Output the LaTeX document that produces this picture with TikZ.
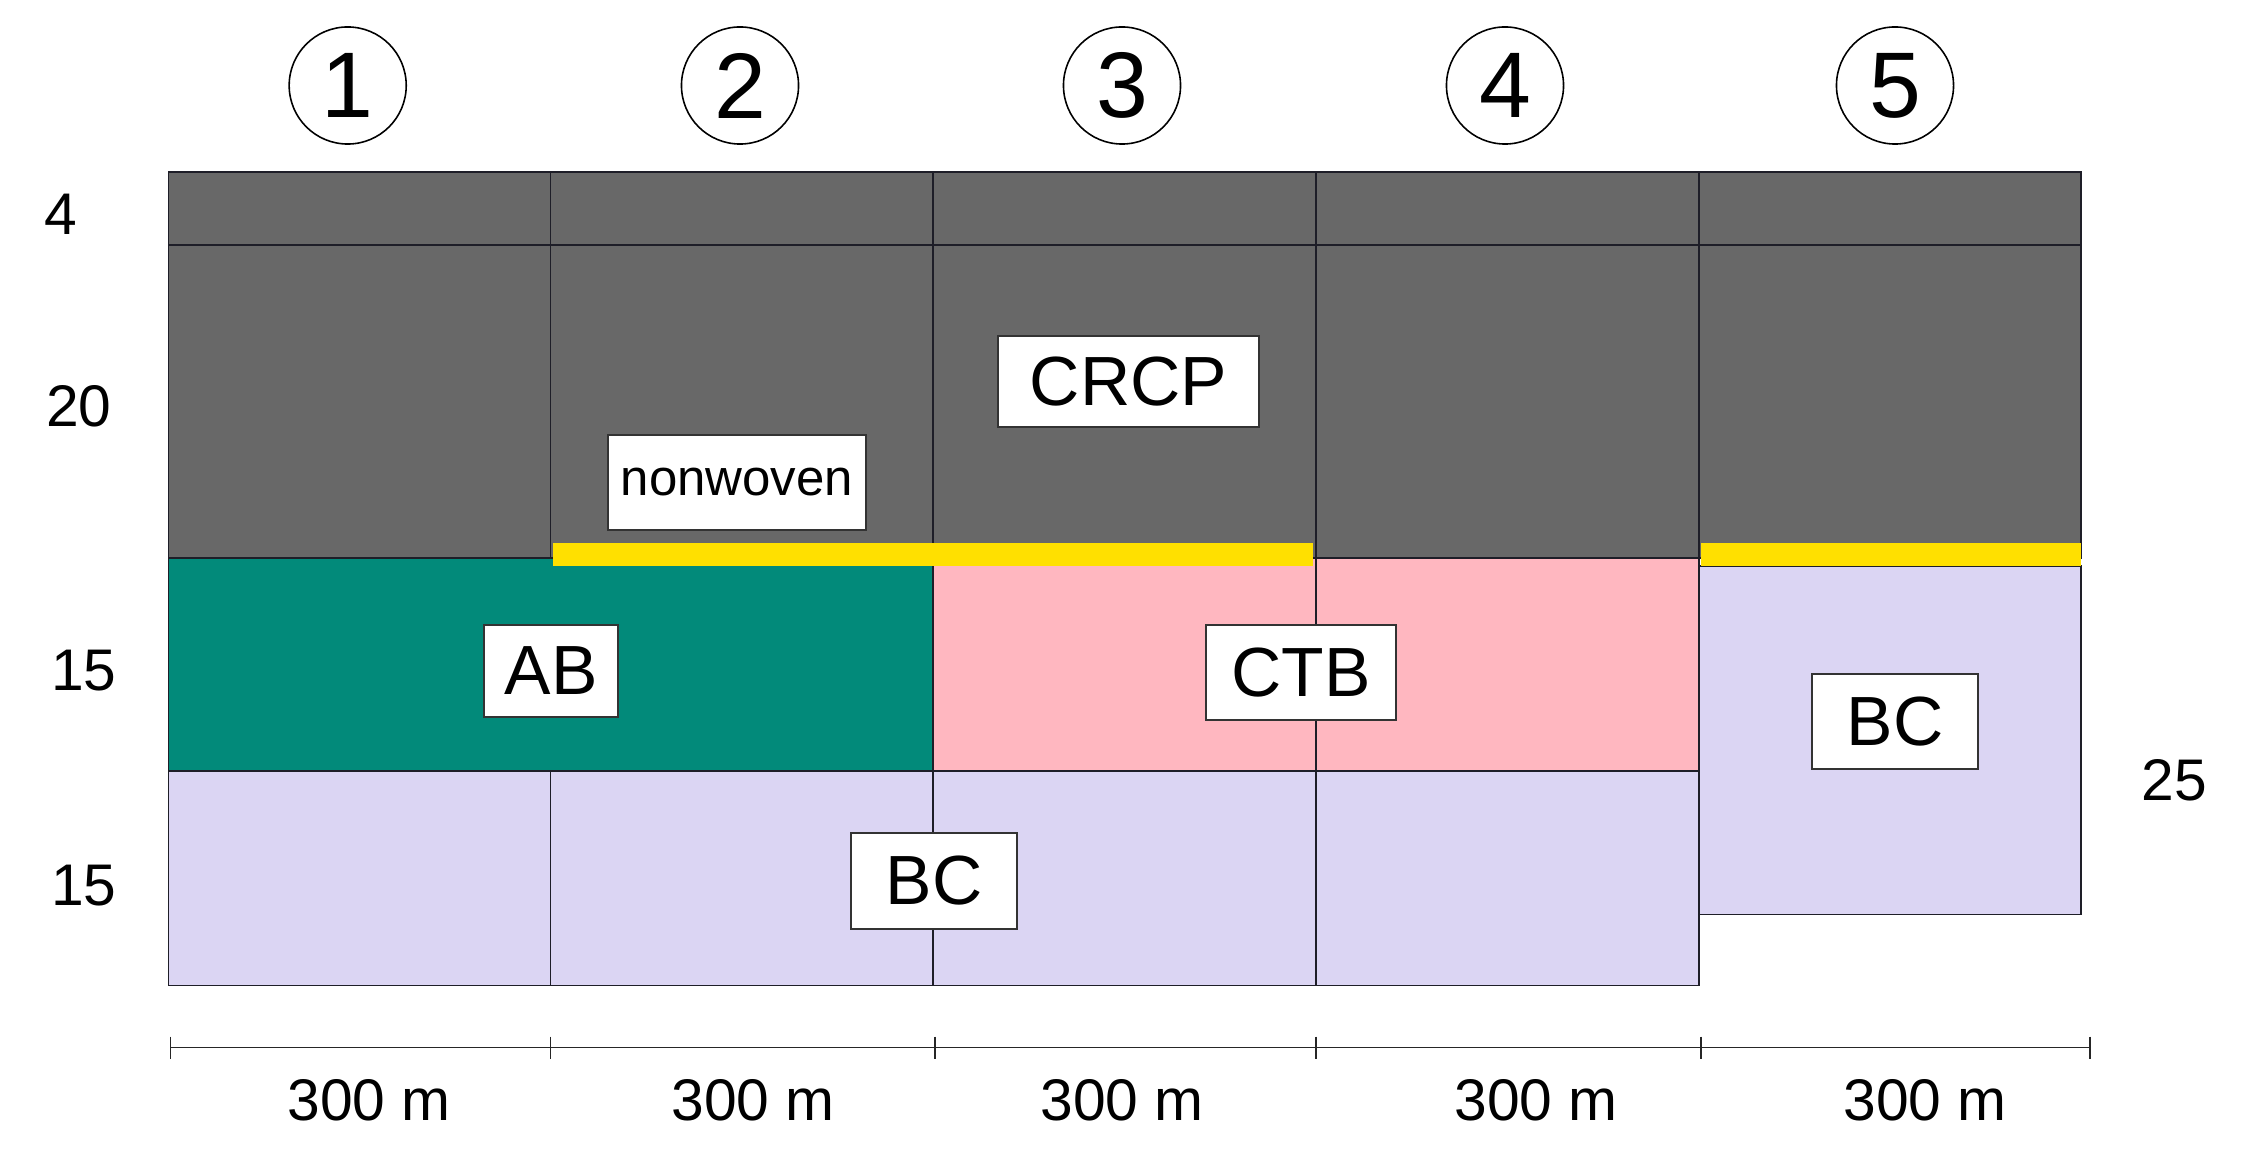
\documentclass[tikz,border=0pt]{standalone}
\usepackage{fontspec}
\setmainfont{Liberation Sans}
\definecolor{concgray}{RGB}{104,104,104}
\definecolor{abgreen}{RGB}{2,138,122}
\definecolor{ctbpink}{RGB}{255,183,192}
\definecolor{bclav}{RGB}{219,213,243}
\definecolor{geoyellow}{RGB}{255,224,0}
\definecolor{linedark}{RGB}{30,30,40}
\begin{document}
\begin{tikzpicture}[x=0.01cm,y=-0.01cm,
  cell/.style={draw=linedark, line width=0.55pt},
  lbl/.style={draw=black!80, fill=white, line width=0.55pt, inner sep=0pt,
    font=\fontsize{19.8}{22}\selectfont},
  numc/.style={circle, draw=black, line width=0.45pt, minimum size=1.17cm, inner sep=0pt,
    font=\fontsize{26.5}{30}\selectfont},
  dimtxt/.style={inner sep=0pt, font=\fontsize{16.7}{20}\selectfont},
  bar/.style={draw=black!85, line width=0.5pt}]
\useasboundingbox (0,0) rectangle (2248,1161);

% concrete layers (4 cm and 20 cm)
\foreach \a/\b in {168.5/550.5, 550.5/932.6, 932.6/1316, 1316/1699, 1699/2081} {
  \filldraw[cell, fill=concgray] (\a,172) rectangle (\b,245);
  \filldraw[cell, fill=concgray] (\a,245) rectangle (\b,558);
}
% base layers
\filldraw[cell, fill=abgreen] (168.5,558) rectangle (932.6,771);
\filldraw[cell, fill=ctbpink] (932.6,558) rectangle (1316,771);
\filldraw[cell, fill=ctbpink] (1316,558) rectangle (1699,771);
\foreach \a/\b in {168.5/550.5, 550.5/932.6, 932.6/1316, 1316/1699} {
  \filldraw[cell, fill=bclav] (\a,771) rectangle (\b,985.5);
}
\filldraw[cell, fill=bclav] (1699,566) rectangle (2081,914.5);
% nonwoven geotextile
\fill[geoyellow] (553,543) rectangle (1313,566);
\fill[geoyellow] (1701,543) rectangle (2081,566);

% labels
\node[lbl, minimum width=2.58cm, minimum height=0.95cm, font=\fontsize{14.5}{17}\selectfont] (nw) at (737,482.5) {nonwoven};
\node[lbl, minimum width=2.61cm, minimum height=0.91cm] (crcp) at (1128.5,381.5) {CRCP};
\node[lbl, minimum width=1.34cm, minimum height=0.92cm] (ab) at (551,671) {AB};
\node[lbl, minimum width=1.90cm, minimum height=0.95cm] (ctb) at (1301,672.5) {CTB};
\node[lbl, minimum width=1.66cm, minimum height=0.96cm] (bca) at (934,881) {BC};
\node[lbl, minimum width=1.66cm, minimum height=0.95cm] (bcb) at (1895,721.5) {BC};

% section numbers
\node[numc] (c1) at (347.7,85.5) {1};
\node[numc] (c2) at (740,85.5) {2};
\node[numc] (c3) at (1122,85.5) {3};
\node[numc] (c4) at (1505,85.5) {4};
\node[numc] (c5) at (1895,85.5) {5};

% thickness labels
\node[dimtxt] (t4) at (61,214) {4};
\node[dimtxt] (t20) at (79,406) {20};
\node[dimtxt] (t15a) at (84,671) {15};
\node[dimtxt] (t15b) at (84,886) {15};
\node[dimtxt] (t25) at (2174,780) {25};

% scale bar
\coordinate (s0) at (170.6,1047.5);
\coordinate (s1) at (550.5,1047.5);
\coordinate (s2) at (935,1047.5);
\coordinate (s3) at (1316,1047.5);
\coordinate (s4) at (1701,1047.5);
\coordinate (s5) at (2089.6,1047.5);
\draw[bar] (s0) -- (s5);
\foreach \i in {0,...,5} {
  \draw[bar] (s\i) ++(0,-11) -- ++(0,22);
}
\node[dimtxt] (m1) at (369,1100) {300 m};
\node[dimtxt] (m2) at (753,1100) {300 m};
\node[dimtxt] (m3) at (1122,1100) {300 m};
\node[dimtxt] (m4) at (1536,1100) {300 m};
\node[dimtxt] (m5) at (1925,1100) {300 m};
\end{tikzpicture}
\end{document}
